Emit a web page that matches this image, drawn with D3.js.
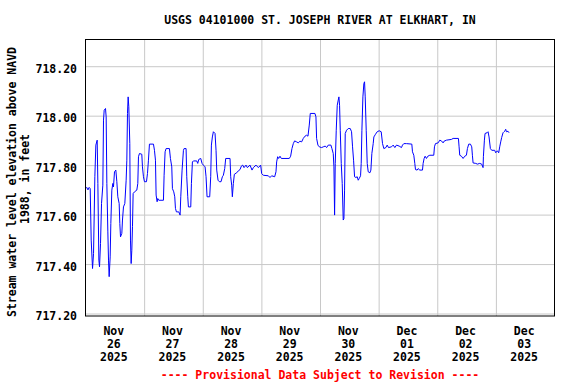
<!DOCTYPE html>
<html>
<head>
<meta charset="utf-8">
<script src="https://cdn.jsdelivr.net/npm/d3@7"></script>
<style>
  body { margin: 0; background: #fff; }
  text { font-family: "DejaVu Sans Mono", monospace; font-weight: bold; font-size: 11.5px; }
</style>
</head>
<body>
<div id="chart-area"></div>
<script>
// chart texts
const TITLE = "USGS 04101000 ST. JOSEPH RIVER AT ELKHART, IN"
const Y_LABEL = ["Stream water level elevation above NAVD", "1988, in feet"]
const FOOTER = "---- Provisional Data Subject to Revision ----"

// axis ticks
const Y_TICKS = [717.20, 717.40, 717.60, 717.80, 718.00, 718.20]
const DAYS = ["2025-11-26", "2025-11-27", "2025-11-28", "2025-11-29",
              "2025-11-30", "2025-12-01", "2025-12-02", "2025-12-03"]
const START = "2025-11-26T00:00"
const END = "2025-12-04T00:00"

// readings: hours after Nov 26 00:00, gage elevation (ft)
const hours = [
  0, 0.5, 1.0, 1.5, 1.92, 2.33, 2.88, 3.29, 3.83, 4.24, 4.78, 5.06, 5.47, 5.74, 6.15, 6.56,
  7.10, 7.37, 7.65, 8.19, 8.46, 8.74, 9.15, 9.42, 9.69, 10.10, 10.37, 10.78, 11.19, 11.46,
  11.87, 12.42, 12.83, 13.23, 13.78, 14.05, 14.33, 14.87, 15.14, 15.55, 16.10, 16.64, 16.92,
  17.19, 17.46, 17.73, 18.14, 18.41, 18.69, 18.96, 19.23, 19.50, 20.05, 21.00, 21.41, 21.69,
  22.09, 23.05, 23.32, 23.73, 24.14, 24.96, 25.37, 25.77, 26.18, 27.82, 28.23, 28.64, 28.91,
  29.32, 29.59, 30.00, 31.91, 32.18, 32.59, 33.00, 34.36, 34.77, 35.32, 35.59, 36.13, 36.54,
  36.82, 37.22, 38.18, 38.72, 39.00, 39.54, 40.09, 40.36, 41.18, 41.45, 41.86, 42.13, 43.09,
  43.36, 43.77, 44.18, 45.54, 45.95, 46.36, 47.18, 47.72, 48.26, 48.95, 49.35, 49.76, 50.85,
  51.26, 51.54, 51.94, 52.35, 53.03, 53.44, 53.72, 54.26, 54.81, 55.49, 56.03, 56.44, 56.99,
  57.40, 59.17, 59.44, 59.85, 60.12, 60.53, 60.94, 61.89, 62.57, 63.26, 63.80,
  64.35, 64.90, 65.71, 66.26, 67.35, 68.17, 68.71, 69.80, 70.76, 71.71, 72.12, 72.80, 74.85,
  75.53, 76.21, 77.44, 77.98, 78.25, 78.66, 79.07, 79.62, 80.16, 83.43, 83.98, 84.52, 85.07,
  85.61, 86.43, 87.11, 87.79, 88.48, 89.16, 89.84, 90.52, 91.07, 91.61, 92.02, 93.93, 94.34,
  94.61, 95.15, 95.70, 96.65, 97.34, 98.15, 98.70, 99.38, 100.47, 100.88, 101.42, 101.70,
  101.97, 102.24, 102.65, 103.06, 103.47, 103.74, 104.01, 104.29, 104.70, 105.10, 105.51,
  105.79, 106.06, 106.33, 106.88, 107.56, 108.38, 108.92, 109.33, 109.74, 110.15, 110.69,
  111.24, 111.65, 112.06, 112.60, 112.87, 113.15, 113.56, 113.96, 114.24, 114.51, 114.92,
  115.33, 115.74, 116.42, 116.83, 117.23, 117.78, 118.05, 118.73, 119.42, 120.23, 121.05,
  121.60, 122.14, 122.96, 123.50, 124.05, 125.28, 125.96, 126.64, 127.32, 128.41,
  129.36, 129.77, 130.32, 131.41, 133.59, 133.86, 134.40, 134.81, 135.09, 135.77, 136.18,
  136.86, 137.95, 138.22, 138.63, 139.04, 139.58, 140.13, 140.95, 142.58, 142.86, 143.26,
  144.35, 145.04, 145.72, 146.40, 146.81, 147.76, 149.81, 150.49, 152.67, 152.94, 153.21,
  153.90, 154.58, 155.26, 155.94, 156.35, 156.89, 157.58, 158.12, 158.39, 158.67, 159.76,
  160.44, 161.39, 162.21, 162.76, 162.89, 163.30, 163.57, 164.39, 164.80, 165.21, 165.75,
  166.30, 167.52, 167.93, 168.61, 169.16, 169.57, 169.98, 170.38, 170.93, 171.34, 171.75,
  172.02, 172.30, 172.98, 173.39
]
const elevation = [
  717.705, 717.71, 717.70, 717.71, 717.705, 717.497, 717.382, 717.443, 717.753, 717.881, 717.901,
  717.726, 717.416, 717.389, 717.483, 717.645, 717.719, 717.982, 718.022, 718.029, 717.995,
  717.726, 717.530, 717.416, 717.349, 717.429, 717.564, 717.699, 717.726, 717.712, 717.773,
  717.780, 717.733, 717.672, 717.645, 717.564, 717.510, 717.524, 717.578, 717.631, 717.645,
  717.739, 717.820, 718.009, 718.076, 718.036, 717.887, 717.497, 717.402, 717.456, 717.551,
  717.685, 717.692, 717.699, 717.726, 717.834, 717.847, 717.844, 717.793, 717.753, 717.733,
  717.733, 717.766, 717.820, 717.885, 717.885, 717.860, 717.820, 717.679, 717.652, 717.665,
  717.658, 717.658, 717.759, 717.854, 717.867, 717.867, 717.827, 717.793, 717.705, 717.692,
  717.672, 717.625, 717.611, 717.611, 717.598, 717.672, 717.780, 717.860, 717.867, 717.867,
  717.753, 717.672, 717.631, 717.631, 717.726, 717.813, 717.817, 717.817, 717.807, 717.823,
  717.827, 717.807, 717.800, 717.793, 717.753, 717.672, 717.672, 717.753, 717.881, 717.914,
  717.935, 717.928, 717.860, 717.780, 717.739, 717.733, 717.733, 717.753, 717.759, 717.786,
  717.827, 717.827, 717.753, 717.719, 717.672, 717.726, 717.763, 717.769, 717.777, 717.782,
  717.796,
  717.800, 717.790, 717.800, 717.790, 717.800, 717.780, 717.790, 717.800, 717.790, 717.800,
  717.766, 717.759, 717.757, 717.750, 717.757, 717.753, 717.773, 717.813, 717.834, 717.827,
  717.836, 717.827, 717.827, 717.836, 717.867, 717.887, 717.898, 717.894, 717.890, 717.897,
  717.894, 717.908, 717.917, 717.921, 717.917, 717.962, 718.009, 718.009, 717.995, 717.908,
  717.881, 717.874, 717.871, 717.874, 717.877, 717.871, 717.881, 717.881, 717.867, 717.847,
  717.793, 717.598, 717.807, 717.941, 718.042, 718.063, 718.076, 718.042, 717.941, 717.807,
  717.726, 717.578, 717.584, 717.699, 717.928, 717.941, 717.948, 717.948, 717.935, 717.874,
  717.820, 717.753, 717.750, 717.753, 717.739, 717.746, 717.757, 717.807, 717.941, 718.076,
  718.130, 718.137, 718.076, 717.941, 717.807, 717.773, 717.769, 717.780, 717.847, 717.887,
  717.914, 717.925, 717.935, 717.939, 717.935, 717.887, 717.867, 717.871, 717.881, 717.871,
  717.874, 717.881, 717.871, 717.881, 717.877,
  717.871, 717.881, 717.887, 717.887, 717.885, 717.854, 717.840, 717.807, 717.782, 717.780,
  717.786, 717.780, 717.780, 717.807, 717.827, 717.836, 717.827, 717.836, 717.840, 717.840,
  717.874, 717.887, 717.890, 717.901, 717.898, 717.890, 717.897, 717.901, 717.904, 717.908,
  717.908, 717.874, 717.840, 717.836, 717.827, 717.836, 717.840, 717.867, 717.885, 717.885,
  717.874, 717.840, 717.809, 717.807, 717.804, 717.807, 717.804, 717.790, 717.834, 717.901,
  717.928, 717.931, 717.935, 717.914, 717.867, 717.860, 717.860, 717.850, 717.858, 717.850,
  717.874, 717.894, 717.912, 717.931, 717.935, 717.939, 717.945, 717.935, 717.937, 717.931
]

// SET MARGIN / CHART DIMENSIONS
const MARGIN = {LEFT: 85.5, TOP: 39.5, RIGHT: 21.5, BOTTOM: 68}
const WIDTH = 576 - MARGIN.LEFT - MARGIN.RIGHT
const HEIGHT = 384 - MARGIN.TOP - MARGIN.BOTTOM

const svg = d3.select("#chart-area").append("svg")
    .attr("width", 576)
    .attr("height", 384)

const g = svg.append("g")
    .attr("transform", `translate(${MARGIN.LEFT}, ${MARGIN.TOP})`)

const parse = d3.timeParse("%Y-%m-%dT%H:%M")
const t0 = parse(START)
const data = hours.map((h, i) => ({
    date: new Date(t0.getTime() + h * 3600 * 1000),
    value: elevation[i]
}))

// --- scales
const x = d3.scaleTime()
    .domain([t0, parse(END)])
    .range([0, WIDTH])
const y = d3.scaleLinear()
    .domain([717.19, 718.308])
    .range([HEIGHT, 0])

// --- grid
const midnights = DAYS.slice(1).map(d => parse(d + "T00:00"))
g.append("g")
    .attr("class", "xgrid")
    .attr("transform", `translate(0, ${HEIGHT})`)
    .call(d3.axisBottom(x).tickValues(midnights).tickSize(-HEIGHT).tickFormat(""))
    .call(s => s.select(".domain").remove())
    .selectAll("line").attr("stroke", "#c8c8c8")

g.append("g")
    .attr("class", "ygrid")
    .call(d3.axisLeft(y).tickValues(Y_TICKS).tickSize(-WIDTH).tickFormat(""))
    .call(s => s.select(".domain").remove())
    .selectAll("line").attr("stroke", "#c8c8c8")

// --- y tick labels
g.append("g")
    .attr("class", "yaxis")
    .call(d3.axisLeft(y).tickValues(Y_TICKS).tickSize(0).tickPadding(8.5)
        .tickFormat(d3.format(".2f")))
    .call(s => s.select(".domain").remove())
    .selectAll("text")
    .attr("fill", "#000")
    .attr("dy", "0.52em")

// --- x tick labels (noon of each day, three lines)
const noons = DAYS.map(d => parse(d + "T12:00"))
const xAxis = g.append("g")
    .attr("class", "xaxis")
    .attr("transform", `translate(-1.5, ${HEIGHT})`)
    .call(d3.axisBottom(x).tickValues(noons).tickSize(0).tickFormat(""))
xAxis.select(".domain").remove()
xAxis.selectAll(".tick").each(function(d) {
    const t = d3.select(this).select("text")
        .attr("fill", "#000")
        .attr("y", 0)
        .attr("dy", null)
    const lines = [d3.timeFormat("%b")(d), d3.timeFormat("%d")(d), d3.timeFormat("%Y")(d)]
    lines.forEach((s, i) => {
        t.append("tspan").attr("x", 0).attr("y", 18.5 + i * 13).text(s)
    })
})

// --- data line
g.append("path")
    .datum(data)
    .attr("fill", "none")
    .attr("stroke", "#0000ff")
    .attr("stroke-width", 1)
    .attr("d", d3.line().x(d => x(d.date)).y(d => y(d.value)))

// --- frame
g.append("rect")
    .attr("width", WIDTH)
    .attr("height", HEIGHT)
    .attr("fill", "none")
    .attr("stroke", "#000")
    .attr("stroke-width", 1)

// --- title / footer
svg.append("text")
    .attr("x", MARGIN.LEFT + WIDTH / 2)
    .attr("y", 24)
    .attr("text-anchor", "middle")
    .text(TITLE)

svg.append("text")
    .attr("x", MARGIN.LEFT + WIDTH / 2)
    .attr("y", 379)
    .attr("text-anchor", "middle")
    .attr("fill", "#ff0000")
    .text(FOOTER)

// --- y axis label, two lines, rotated
const yl = [{text: Y_LABEL[0], x: 15.5, y: 182}, {text: Y_LABEL[1], x: 28.5, y: 179}]
svg.selectAll(".yaxis-label")
    .data(yl)
    .enter()
    .append("text")
    .attr("class", "yaxis-label")
    .attr("text-anchor", "middle")
    .attr("transform", d => `translate(${d.x}, ${d.y}) rotate(-90)`)
    .text(d => d.text)
</script>
</body>
</html>
